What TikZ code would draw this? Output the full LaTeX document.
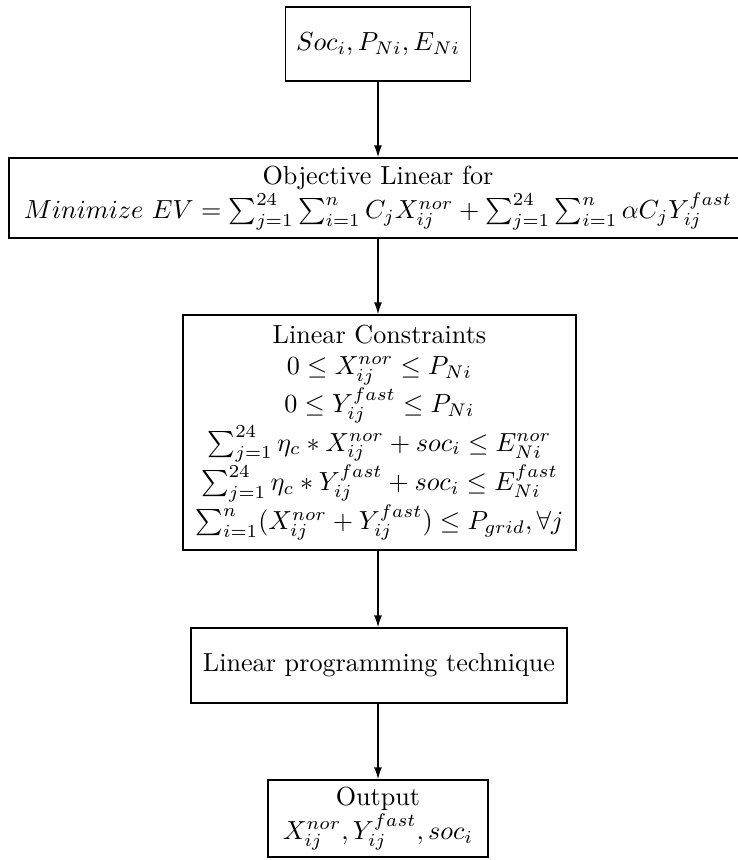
\documentclass[tikz,border=0pt]{standalone}
\usetikzlibrary{arrows.meta}
\begin{document}
\begin{tikzpicture}[x=0.3826pt,y=-0.3826pt,
  box/.style={draw, line width=0.6pt, align=center, inner sep=0pt},
  arr/.style={line width=0.45pt, -{Latex[length=4.5pt,width=3pt]}}]
\useasboundingbox (0,0) rectangle (738,860);
\node[box, minimum width=70.8pt, minimum height=28.3pt] (b1) at (378,44) {$Soc_i, P_{Ni}, E_{Ni}$};
\node[box, minimum width=282.4pt, minimum height=30.6pt] (b2) at (378,198) {Objective Linear for\\[1pt] $Minimize\ EV = \sum_{j=1}^{24}\sum_{i=1}^{n} C_jX_{ij}^{nor} + \sum_{j=1}^{24}\sum_{i=1}^{n}\alpha C_jY_{ij}^{fast}$};
\node[box, minimum width=150.4pt, minimum height=89.9pt] (b3) at (379.5,432.5) {Linear Constraints\\ $0\leq X_{ij}^{nor}\leq P_{Ni}$\\ $0\leq Y_{ij}^{fast}\leq P_{Ni}$\\ $\sum_{j=1}^{24}\eta_c * X_{ij}^{nor}+soc_i\leq E_{Ni}^{nor}$\\ $\sum_{j=1}^{24}\eta_c * Y_{ij}^{fast}+soc_i\leq E_{Ni}^{fast}$\\ $\sum_{i=1}^{n}(X_{ij}^{nor}+Y_{ij}^{fast})\leq P_{grid},\forall j$};
\node[box, minimum width=143.9pt, minimum height=28.7pt] (b4) at (379,665.5) {Linear programming technique};
\node[box, minimum width=84.2pt, minimum height=29.5pt] (b5) at (378,818.5) {Output\\[1pt] $X_{ij}^{nor}, Y_{ij}^{fast}, soc_i$};
\draw[arr] (b1.south) -- (b1.south |- b2.north);
\draw[arr] (b2.south) -- (b2.south |- b3.north);
\draw[arr] (b3.south -| b2.south) -- (b2.south |- b4.north);
\draw[arr] (b4.south -| b2.south) -- (b2.south |- b5.north);
\end{tikzpicture}
\end{document}
